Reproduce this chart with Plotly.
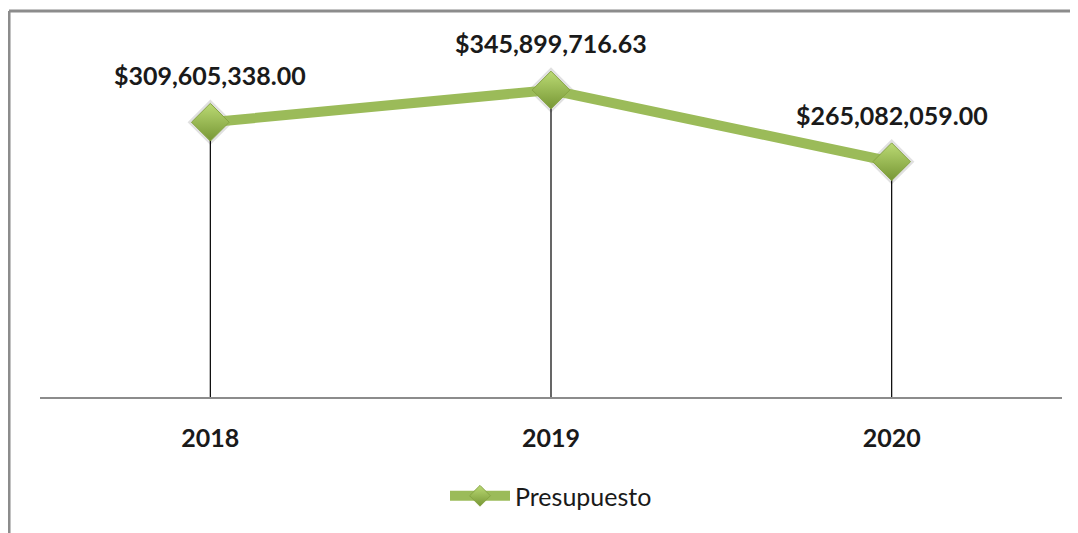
import plotly.graph_objects as go

years = ["2018", "2019", "2020"]
presupuesto = [309605338.00, 345899716.63, 265082059.00]
labels = ["$309,605,338.00", "$345,899,716.63", "$265,082,059.00"]

green = "#9BBB59"
font_family = "Lato, 'Open Sans', sans-serif"

fig = go.Figure()

# drop lines from each point to the axis
for yr, val in zip(years, presupuesto):
    fig.add_trace(
        go.Scatter(
            x=[yr, yr],
            y=[0, val],
            mode="lines",
            line=dict(color="black", width=1.2),
            showlegend=False,
            hoverinfo="skip",
        )
    )

# soft shadow under the markers
fig.add_trace(
    go.Scatter(
        x=years,
        y=presupuesto,
        mode="markers",
        marker=dict(symbol="diamond", size=35, color="rgba(0,0,0,0.12)", line=dict(width=0)),
        showlegend=False,
        hoverinfo="skip",
    )
)

fig.add_trace(
    go.Scatter(
        x=years,
        y=presupuesto,
        mode="lines+markers",
        name="Presupuesto",
        line=dict(color=green, width=10),
        marker=dict(
            symbol="diamond",
            size=29,
            color="#BBDA74",
            gradient=dict(type="vertical", color="#779735"),
            line=dict(color="#86A442", width=1),
        ),
    )
)

# value labels (category axis -> position by index)
for i, (val, txt) in enumerate(zip(presupuesto, labels)):
    fig.add_annotation(
        x=i,
        y=val,
        text="<b>" + txt + "</b>",
        showarrow=False,
        yshift=47,
        font=dict(family=font_family, size=25, color="#1a1a1a"),
    )

# chart frame (top and left edges visible)
fig.add_shape(type="line", xref="paper", yref="paper", x0=-0.0303, x1=1.1, y0=1.087, y1=1.087,
              line=dict(color="#8c8c8c", width=3))
fig.add_shape(type="line", xref="paper", yref="paper", x0=-0.0303, x1=-0.0303, y0=-0.5, y1=1.087,
              line=dict(color="#8c8c8c", width=3))

fig.update_layout(
    width=1070,
    height=525,
    margin=dict(l=32, r=16, t=34, b=136),
    plot_bgcolor="white",
    paper_bgcolor="white",
    font=dict(family=font_family, color="#1a1a1a"),
    xaxis=dict(
        type="category",
        range=[-0.5, 2.5],
        showgrid=False,
        showline=True,
        linecolor="#8c8c8c",
        linewidth=1.5,
        ticks="",
        ticklabelstandoff=18,
        tickfont=dict(family=font_family, size=25, color="#1a1a1a", weight="bold"),
        fixedrange=True,
    ),
    yaxis=dict(
        range=[0, 400e6],
        visible=False,
        showgrid=False,
        zeroline=False,
        fixedrange=True,
    ),
    showlegend=True,
    legend=dict(
        orientation="h",
        x=0.5,
        xanchor="center",
        y=-0.279,
        yanchor="middle",
        font=dict(family=font_family, size=25, color="#1a1a1a"),
        itemwidth=60,
        bgcolor="rgba(0,0,0,0)",
    ),
)

fig.write_html("out.html")
